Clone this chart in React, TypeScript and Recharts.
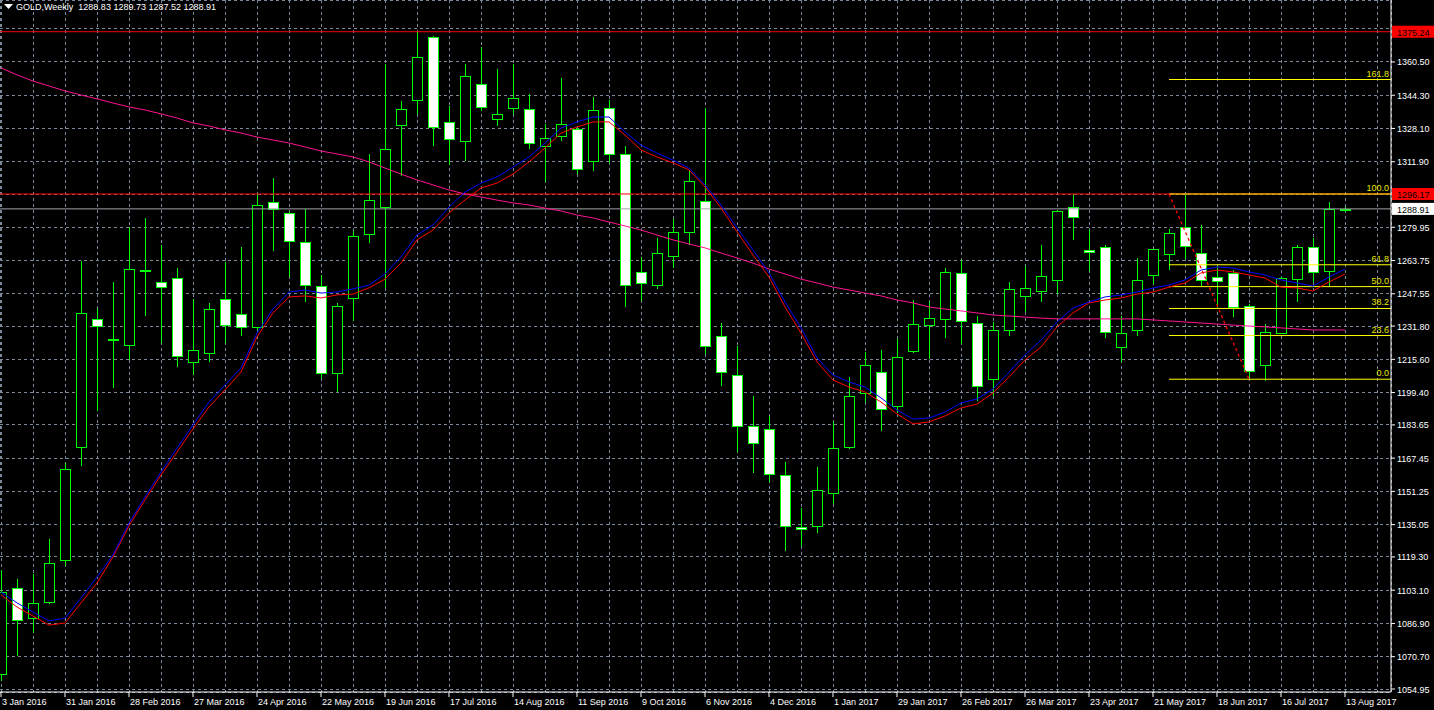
import { ComposedChart, Bar, Line, XAxis, YAxis, CartesianGrid, ReferenceLine } from "recharts";

// weekly GOLD candles, 3 Jan 2016 .. 13 Aug 2017
const opens = [
  1062.3, 1104.2, 1089.5, 1097.3, 1117.8, 1172.9, 1235.3, 1225.3, 1222.6, 1259.2,
  1253.3, 1255.2, 1214.3, 1218.7, 1245.0, 1237.7, 1231.4, 1292.3, 1286.9, 1272.8,
  1251.3, 1208.9, 1245.5, 1276.7, 1289.8, 1329.8, 1342.0, 1372.7, 1331.3, 1322.0,
  1349.8, 1332.7, 1338.1, 1337.6, 1319.5, 1324.4, 1327.8, 1312.2, 1338.1, 1315.7,
  1258.1, 1251.8, 1265.9, 1277.6, 1292.7, 1227.0, 1208.0, 1183.1, 1181.6, 1159.2,
  1134.0, 1134.4, 1150.5, 1172.9, 1199.2, 1209.4, 1193.0, 1219.7, 1232.3, 1235.2,
  1257.7, 1233.3, 1206.0, 1229.9, 1246.5, 1248.9, 1254.3, 1289.8, 1268.9, 1270.3,
  1221.6, 1229.9, 1256.7, 1266.9, 1280.1, 1267.4, 1255.7, 1257.7, 1241.6, 1212.8,
  1228.4, 1254.8, 1270.3, 1258.6, 1288.83,
];
const highs = [
  1112.9, 1108.5, 1111.0, 1128.0, 1165.0, 1263.5, 1240.1, 1253.3, 1280.1, 1284.5,
  1271.3, 1260.1, 1245.0, 1243.0, 1263.0, 1270.3, 1296.2, 1303.9, 1287.4, 1288.9,
  1256.7, 1243.0, 1278.1, 1315.7, 1359.5, 1341.5, 1375.1, 1373.2, 1339.0, 1359.5,
  1367.8, 1357.1, 1359.5, 1344.9, 1330.3, 1352.7, 1329.0, 1343.4, 1342.0, 1319.5,
  1265.5, 1274.8, 1284.0, 1307.4, 1338.1, 1233.3, 1222.1, 1197.7, 1188.0, 1165.6,
  1143.2, 1163.1, 1185.1, 1207.0, 1219.2, 1220.1, 1225.5, 1244.5, 1243.5, 1260.1,
  1264.0, 1236.7, 1233.8, 1253.3, 1261.1, 1271.3, 1288.4, 1296.2, 1278.6, 1271.3,
  1236.7, 1265.0, 1269.6, 1279.1, 1296.2, 1281.1, 1261.1, 1259.0, 1242.6, 1232.8,
  1255.7, 1271.3, 1274.7, 1292.3, 1289.73,
];
const lows = [
  1059.0, 1071.0, 1082.2, 1096.4, 1114.9, 1163.6, 1190.4, 1201.6, 1215.3, 1236.7,
  1223.6, 1211.9, 1208.0, 1214.3, 1223.6, 1227.1, 1230.0, 1268.4, 1255.7, 1243.5,
  1206.5, 1199.7, 1234.3, 1272.3, 1250.4, 1304.9, 1335.1, 1319.5, 1310.3, 1312.2,
  1336.6, 1329.3, 1335.1, 1318.1, 1302.0, 1322.0, 1305.9, 1307.4, 1311.3, 1241.1,
  1244.0, 1249.9, 1260.1, 1271.3, 1218.2, 1202.6, 1170.4, 1160.2, 1155.8, 1122.2,
  1124.6, 1131.0, 1145.1, 1171.9, 1194.8, 1180.7, 1189.4, 1218.7, 1215.8, 1226.0,
  1223.1, 1195.3, 1197.7, 1227.0, 1238.7, 1243.5, 1247.4, 1273.8, 1258.6, 1226.0,
  1214.3, 1227.0, 1252.3, 1259.1, 1264.5, 1250.9, 1240.1, 1236.2, 1206.5, 1205.0,
  1228.0, 1243.5, 1253.3, 1251.3, 1287.52,
];
const closes = [
  1102.2, 1088.6, 1096.9, 1116.3, 1162.2, 1238.2, 1231.9, 1225.7, 1259.6, 1258.6,
  1250.8, 1217.2, 1220.1, 1240.1, 1232.3, 1231.4, 1290.8, 1288.9, 1273.3, 1251.8,
  1208.9, 1241.6, 1275.7, 1293.2, 1318.1, 1337.6, 1362.9, 1328.8, 1322.9, 1353.7,
  1338.6, 1335.1, 1343.0, 1321.0, 1323.4, 1330.3, 1308.3, 1337.1, 1315.7, 1251.8,
  1252.8, 1267.4, 1277.6, 1302.5, 1222.1, 1209.4, 1183.1, 1174.8, 1159.7, 1134.4,
  1132.8, 1151.9, 1172.4, 1197.7, 1212.8, 1191.4, 1216.7, 1232.8, 1235.7, 1258.1,
  1234.3, 1202.6, 1229.9, 1249.9, 1250.4, 1256.2, 1287.9, 1285.0, 1267.9, 1228.9,
  1228.4, 1254.3, 1269.4, 1277.2, 1270.8, 1254.3, 1253.8, 1241.1, 1209.9, 1228.9,
  1255.2, 1270.3, 1258.1, 1288.8, 1288.91,
];

// moving averages
const maBlue = [
  1102.2, 1096.9, 1092.5, 1088.1, 1089.5, 1099.3, 1109.5, 1120.3, 1135.8, 1148.5,
  1160.7, 1172.4, 1183.6, 1194.8, 1203.1, 1211.4, 1228.4, 1240.1, 1248.4, 1249.4,
  1247.9, 1248.4, 1249.9, 1251.8, 1257.2, 1265.5, 1276.2, 1281.1, 1289.8, 1297.1,
  1301.5, 1304.5, 1309.3, 1314.2, 1321.0, 1328.3, 1331.3, 1333.7, 1333.7, 1326.4,
  1320.0, 1316.1, 1312.7, 1308.8, 1300.6, 1290.8, 1279.6, 1268.9, 1257.7, 1243.5,
  1230.9, 1216.3, 1208.0, 1204.6, 1202.1, 1196.8, 1190.9, 1186.5, 1187.0, 1189.9,
  1194.3, 1196.3, 1201.1, 1209.4, 1217.7, 1225.0, 1233.8, 1240.6, 1243.5, 1246.0,
  1247.0, 1248.4, 1250.4, 1251.8, 1254.3, 1259.1, 1260.6, 1260.1, 1258.2, 1256.7,
  1254.3, 1252.8, 1251.3, 1255.7, 1259.6,
];
const maRed = [
  1100.8, 1094.9, 1090.5, 1086.1, 1087.1, 1096.9, 1106.6, 1119.3, 1134.4, 1147.1,
  1159.2, 1170.4, 1181.7, 1192.4, 1200.7, 1209.4, 1226.5, 1238.2, 1246.0, 1246.5,
  1245.5, 1247.0, 1247.4, 1250.4, 1254.7, 1262.5, 1273.8, 1278.6, 1286.9, 1293.2,
  1299.1, 1301.5, 1305.9, 1311.8, 1318.6, 1325.9, 1328.8, 1331.3, 1331.3, 1324.9,
  1317.6, 1314.2, 1311.3, 1307.9, 1299.6, 1289.3, 1277.7, 1266.4, 1255.7, 1241.1,
  1228.4, 1214.3, 1205.5, 1202.1, 1199.7, 1194.8, 1189.0, 1184.1, 1185.1, 1188.0,
  1191.9, 1193.8, 1199.2, 1207.0, 1215.3, 1221.6, 1231.4, 1238.2, 1243.1, 1244.5,
  1245.5, 1247.4, 1248.4, 1250.8, 1252.8, 1257.7, 1259.1, 1258.2, 1256.7, 1255.2,
  1250.8, 1250.4, 1248.9, 1253.3, 1257.2,
];
const maPink = [
  1357.6, 1354.2, 1351.2, 1348.8, 1346.4, 1344.4, 1342.5, 1340.5, 1338.6, 1337.1,
  1335.2, 1333.2, 1330.8, 1329.3, 1327.4, 1325.9, 1323.9, 1322.5, 1321.0, 1319.1,
  1317.1, 1315.7, 1314.2, 1311.8, 1308.8, 1305.9, 1303.0, 1300.6, 1298.1, 1296.2,
  1294.7, 1293.2, 1291.8, 1290.8, 1289.3, 1287.9, 1285.9, 1284.5, 1282.5, 1280.6,
  1278.6, 1276.2, 1273.8, 1271.8, 1269.9, 1267.4, 1265.0, 1262.5, 1259.6, 1257.2,
  1254.7, 1252.8, 1250.8, 1249.4, 1247.9, 1246.5, 1244.5, 1243.1, 1241.1, 1240.1,
  1239.2, 1238.2, 1237.2, 1236.7, 1236.2, 1235.7, 1235.3, 1235.3, 1235.3, 1235.3,
  1235.3, 1235.3, 1234.8, 1234.3, 1233.8, 1233.3, 1232.8, 1232.3, 1231.8, 1231.4,
  1230.9, 1230.4, 1229.9, 1229.9, 1229.9,
];

const dateLabels = [
  "3 Jan 2016", "31 Jan 2016", "28 Feb 2016", "27 Mar 2016", "24 Apr 2016", "22 May 2016",
  "19 Jun 2016", "17 Jul 2016", "14 Aug 2016", "11 Sep 2016", "9 Oct 2016", "6 Nov 2016",
  "4 Dec 2016", "1 Jan 2017", "29 Jan 2017", "26 Feb 2017", "26 Mar 2017", "23 Apr 2017",
  "21 May 2017", "18 Jun 2017", "16 Jul 2017", "13 Aug 2017",
];
const priceLabels = [
  1360.50, 1344.30, 1328.10, 1311.90, 1279.95, 1263.75, 1247.55, 1231.80, 1215.60,
  1199.40, 1183.65, 1167.45, 1151.25, 1135.05, 1119.30, 1103.10, 1086.90, 1070.70, 1054.95,
];
const hiddenGridPrices = [1376.6, 1296.16];

const fibHigh = 1296.17;
const fibLow = 1205.9;
const fibLevels = [161.8, 100.0, 61.8, 50.0, 38.2, 23.6, 0.0];
const fibStart = 73;
const fibEnd = 78;

const resistance = 1375.24;
const bid = 1288.91;

const data = opens.map((o, i) => ({
  k: i,
  range: [lows[i], highs[i]],
  open: o,
  high: highs[i],
  low: lows[i],
  close: closes[i],
  blue: maBlue[i],
  red: maRed[i],
  pink: maPink[i],
}));

const X_MAX = 86.875;
const gridTicks: number[] = [];
for (let i = 0; i <= 86; i += 2) gridTicks.push(i);
const yTicks = [...hiddenGridPrices, ...priceLabels];

const FONT = "'Liberation Sans', Arial, sans-serif";
const GREEN = "#00ff00";
const TEXT = "#ffffff";

const Candle = (props: any) => {
  const { x, y, width, height, payload } = props;
  if (x == null || y == null) return null;
  const { open, close, high, low } = payload;
  const cx = Math.round(x + width / 2) + 0.5;
  const s = height / (high - low);
  const py = (p: number) => y + (high - p) * s;
  const top = Math.round(py(Math.max(open, close))) + 0.5;
  const bot = Math.round(py(Math.min(open, close))) + 0.5;
  return (
    <g shapeRendering="crispEdges">
      <line x1={cx} x2={cx} y1={Math.round(y)} y2={Math.round(y + height)} stroke={GREEN} />
      <rect
        x={cx - 5}
        y={top}
        width={10}
        height={Math.max(bot - top, 1)}
        fill={close >= open ? "#000000" : "#ffffff"}
        stroke={GREEN}
      />
    </g>
  );
};

const PriceTick = (props: any) => {
  const { x, y, payload } = props;
  if (hiddenGridPrices.includes(payload.value)) return null;
  return (
    <g>
      <line x1={x} x2={x + 4} y1={y} y2={y} stroke={TEXT} />
      <text x={x + 6} y={y + 3.5} fill={TEXT} fontSize={9} fontFamily={FONT}>
        {payload.value.toFixed(2)}
      </text>
    </g>
  );
};

const DateTick = (props: any) => {
  const { x, y, payload } = props;
  if (payload.value % 4 !== 0) return null;
  const label = dateLabels[payload.value / 4];
  if (!label) return null;
  return (
    <g>
      <line x1={x} x2={x} y1={y} y2={y + 5} stroke={TEXT} />
      <text x={x + 1} y={y + 13} fill={TEXT} fontSize={9} fontFamily={FONT}>
        {label}
      </text>
    </g>
  );
};

const boxLabel = (text: string, fill: string, color: string) => (p: any) => {
  const vb = p.viewBox;
  const right = vb.x + vb.width;
  return (
    <g>
      <rect x={right + 1} y={vb.y - 6} width={43} height={12} fill={fill} />
      <text x={right + 6} y={vb.y + 4} fill={color} fontSize={9} fontFamily={FONT}>
        {text}
      </text>
    </g>
  );
};

const fibLabel = (text: string) => (p: any) => {
  const vb = p.viewBox;
  return (
    <text
      x={vb.x + vb.width - 2}
      y={vb.y - 3}
      textAnchor="end"
      fill="#e8e800"
      fontSize={9}
      fontFamily={FONT}
    >
      {text}
    </text>
  );
};

export default function App() {
  const fibPrice = (lvl: number) => fibLow + ((fibHigh - fibLow) * lvl) / 100;
  return (
    <div style={{ position: "absolute", left: 0, top: 0, width: 1434, height: 710, background: "#000" }}>
      <ComposedChart
        width={1434}
        height={710}
        data={data}
        margin={{ top: 0, right: 0, left: 0, bottom: 0 }}
      >
        <CartesianGrid
          stroke="#7b8899"
          strokeDasharray="3 3"
          horizontal
          vertical
          shapeRendering="crispEdges"
        />
        <XAxis
          dataKey="k"
          type="number"
          domain={[-0.0625, X_MAX]}
          allowDataOverflow
          ticks={gridTicks}
          interval={0}
          height={18}
          tickSize={0}
          tickMargin={0}
          tickLine={false}
          axisLine={{ stroke: TEXT }}
          tick={<DateTick />}
        />
        <YAxis
          orientation="right"
          type="number"
          domain={[1053.49, 1390.7]}
          allowDataOverflow
          ticks={yTicks}
          interval={0}
          width={43}
          tickSize={0}
          tickMargin={0}
          tickLine={false}
          axisLine={{ stroke: TEXT }}
          tick={<PriceTick />}
        />
        <Bar dataKey="range" barSize={10} shape={Candle} isAnimationActive={false} />
        <ReferenceLine y={bid} stroke="#a0a4aa" label={boxLabel(bid.toFixed(2), "#ffffff", "#000000")} />
        <ReferenceLine y={resistance} stroke="#ff0000" label={boxLabel(resistance.toFixed(2), "#ff0000", "#000000")} />
        <ReferenceLine y={fibHigh} stroke="#ff0000" label={boxLabel(fibHigh.toFixed(2), "#ff0000", "#000000")} />
        {fibLevels.map((lvl) => (
          <ReferenceLine
            key={lvl}
            segment={[
              { x: fibStart, y: fibPrice(lvl) },
              { x: X_MAX, y: fibPrice(lvl) },
            ]}
            stroke="#ffff00"
            label={fibLabel(lvl.toFixed(1))}
          />
        ))}
        <ReferenceLine
          segment={[
            { x: fibStart, y: fibHigh },
            { x: fibEnd, y: fibLow },
          ]}
          stroke="#ff0000"
          strokeWidth={1.3}
          strokeDasharray="3 3"
        />
        <Line dataKey="pink" stroke="#ff1493" dot={false} activeDot={false} strokeWidth={1} isAnimationActive={false} />
        <Line dataKey="red" stroke="#ff0000" dot={false} activeDot={false} strokeWidth={1} isAnimationActive={false} />
        <Line dataKey="blue" stroke="#0000ff" dot={false} activeDot={false} strokeWidth={1} isAnimationActive={false} />
      </ComposedChart>
      <div
        style={{
          position: "absolute",
          left: 4,
          top: 0,
          height: 13,
          display: "flex",
          alignItems: "center",
          color: "#ffffff",
          fontFamily: FONT,
          fontSize: 9,
          whiteSpace: "pre",
        }}
      >
        <svg width={9} height={6} style={{ marginRight: 3 }}>
          <polygon points="0,0 9,0 4.5,5" fill="#ffffff" />
        </svg>
        <span>GOLD,Weekly  1288.83 1289.73 1287.52 1288.91</span>
      </div>
    </div>
  );
}
